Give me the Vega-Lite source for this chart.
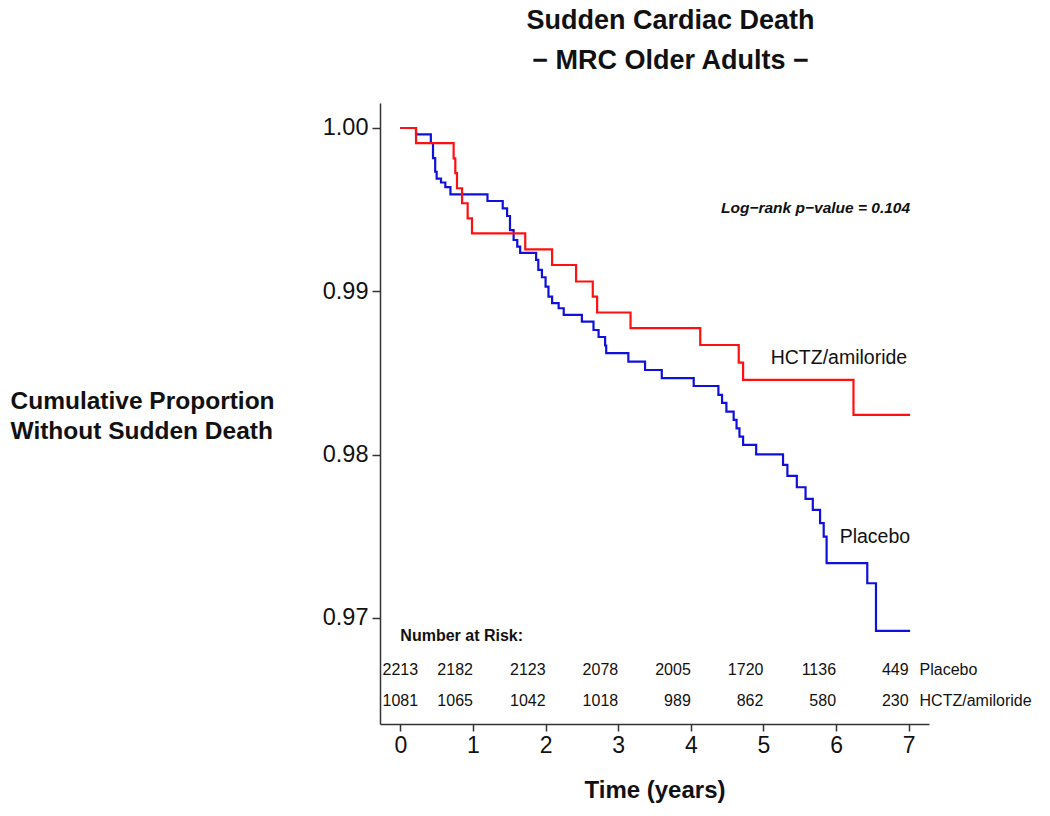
{
  "$schema": "https://vega.github.io/schema/vega-lite/v6.json",
  "width": 549,
  "height": 621,
  "autosize": {"type": "none"},
  "padding": {"left": 380, "top": 103, "right": 121, "bottom": 92},
  "background": "white",
  "config": {
    "view": {"stroke": null},
    "font": "Liberation Sans",
    "axis": {"grid": false}
  },
  "title": {
    "text": ["Sudden Cardiac Death", "− MRC Older Adults −"],
    "fontSize": 27,
    "fontWeight": "bold",
    "lineHeight": 40,
    "anchor": "middle",
    "dx": 16,
    "offset": 28,
    "color": "#111111",
    "font": "Liberation Sans"
  },
  "datasets": {
    "curves": [
      {"group": "Placebo", "t": 0, "S": 1.0},
      {"group": "Placebo", "t": 0.216, "S": 0.99961},
      {"group": "Placebo", "t": 0.42, "S": 0.99908},
      {"group": "Placebo", "t": 0.45, "S": 0.99816},
      {"group": "Placebo", "t": 0.48, "S": 0.99732},
      {"group": "Placebo", "t": 0.5, "S": 0.9969},
      {"group": "Placebo", "t": 0.56, "S": 0.99666},
      {"group": "Placebo", "t": 0.62, "S": 0.99638},
      {"group": "Placebo", "t": 0.69, "S": 0.99594},
      {"group": "Placebo", "t": 1.2, "S": 0.99553},
      {"group": "Placebo", "t": 1.41, "S": 0.99508},
      {"group": "Placebo", "t": 1.47, "S": 0.99461},
      {"group": "Placebo", "t": 1.51, "S": 0.99375},
      {"group": "Placebo", "t": 1.56, "S": 0.99314},
      {"group": "Placebo", "t": 1.61, "S": 0.99274},
      {"group": "Placebo", "t": 1.65, "S": 0.99235},
      {"group": "Placebo", "t": 1.87, "S": 0.99192},
      {"group": "Placebo", "t": 1.9, "S": 0.99131},
      {"group": "Placebo", "t": 1.95, "S": 0.99086},
      {"group": "Placebo", "t": 2.0, "S": 0.99028},
      {"group": "Placebo", "t": 2.04, "S": 0.98967},
      {"group": "Placebo", "t": 2.09, "S": 0.98927},
      {"group": "Placebo", "t": 2.18, "S": 0.98896},
      {"group": "Placebo", "t": 2.25, "S": 0.98855},
      {"group": "Placebo", "t": 2.5, "S": 0.98814},
      {"group": "Placebo", "t": 2.66, "S": 0.98763},
      {"group": "Placebo", "t": 2.73, "S": 0.9872},
      {"group": "Placebo", "t": 2.82, "S": 0.98668},
      {"group": "Placebo", "t": 2.835, "S": 0.98621},
      {"group": "Placebo", "t": 3.14, "S": 0.98569},
      {"group": "Placebo", "t": 3.37, "S": 0.98518},
      {"group": "Placebo", "t": 3.6, "S": 0.98468},
      {"group": "Placebo", "t": 4.04, "S": 0.9842},
      {"group": "Placebo", "t": 4.38, "S": 0.98365},
      {"group": "Placebo", "t": 4.43, "S": 0.98316},
      {"group": "Placebo", "t": 4.49, "S": 0.98263},
      {"group": "Placebo", "t": 4.59, "S": 0.98212},
      {"group": "Placebo", "t": 4.63, "S": 0.98161},
      {"group": "Placebo", "t": 4.67, "S": 0.9811},
      {"group": "Placebo", "t": 4.72, "S": 0.98059},
      {"group": "Placebo", "t": 4.9, "S": 0.98001},
      {"group": "Placebo", "t": 5.27, "S": 0.97937},
      {"group": "Placebo", "t": 5.33, "S": 0.97869},
      {"group": "Placebo", "t": 5.46, "S": 0.978},
      {"group": "Placebo", "t": 5.58, "S": 0.97729},
      {"group": "Placebo", "t": 5.68, "S": 0.97661},
      {"group": "Placebo", "t": 5.78, "S": 0.9758},
      {"group": "Placebo", "t": 5.83, "S": 0.97498},
      {"group": "Placebo", "t": 5.87, "S": 0.97335},
      {"group": "Placebo", "t": 6.43, "S": 0.97212},
      {"group": "Placebo", "t": 6.55, "S": 0.9692},
      {"group": "Placebo", "t": 7.02, "S": 0.9692},
      {"group": "HCTZ/amiloride", "t": 0, "S": 1.0},
      {"group": "HCTZ/amiloride", "t": 0.216, "S": 0.99907},
      {"group": "HCTZ/amiloride", "t": 0.734, "S": 0.99814},
      {"group": "HCTZ/amiloride", "t": 0.757, "S": 0.99723},
      {"group": "HCTZ/amiloride", "t": 0.78, "S": 0.99631},
      {"group": "HCTZ/amiloride", "t": 0.85, "S": 0.99539},
      {"group": "HCTZ/amiloride", "t": 0.927, "S": 0.99447},
      {"group": "HCTZ/amiloride", "t": 0.987, "S": 0.99355},
      {"group": "HCTZ/amiloride", "t": 1.72, "S": 0.99257},
      {"group": "HCTZ/amiloride", "t": 2.09, "S": 0.99161},
      {"group": "HCTZ/amiloride", "t": 2.42, "S": 0.9906},
      {"group": "HCTZ/amiloride", "t": 2.65, "S": 0.98967},
      {"group": "HCTZ/amiloride", "t": 2.71, "S": 0.9887},
      {"group": "HCTZ/amiloride", "t": 3.17, "S": 0.98774},
      {"group": "HCTZ/amiloride", "t": 4.13, "S": 0.98671},
      {"group": "HCTZ/amiloride", "t": 4.66, "S": 0.98563},
      {"group": "HCTZ/amiloride", "t": 4.72, "S": 0.98457},
      {"group": "HCTZ/amiloride", "t": 6.24, "S": 0.98243},
      {"group": "HCTZ/amiloride", "t": 7.02, "S": 0.98243}
    ],
    "risk": [
      {"group": "Placebo", "t": 0, "n": 2213},
      {"group": "Placebo", "t": 1, "n": 2182},
      {"group": "Placebo", "t": 2, "n": 2123},
      {"group": "Placebo", "t": 3, "n": 2078},
      {"group": "Placebo", "t": 4, "n": 2005},
      {"group": "Placebo", "t": 5, "n": 1720},
      {"group": "Placebo", "t": 6, "n": 1136},
      {"group": "Placebo", "t": 7, "n": 449},
      {"group": "HCTZ/amiloride", "t": 0, "n": 1081},
      {"group": "HCTZ/amiloride", "t": 1, "n": 1065},
      {"group": "HCTZ/amiloride", "t": 2, "n": 1042},
      {"group": "HCTZ/amiloride", "t": 3, "n": 1018},
      {"group": "HCTZ/amiloride", "t": 4, "n": 989},
      {"group": "HCTZ/amiloride", "t": 5, "n": 862},
      {"group": "HCTZ/amiloride", "t": 6, "n": 580},
      {"group": "HCTZ/amiloride", "t": 7, "n": 230}
    ]
  },
  "layer": [
    {
      "data": {"name": "curves"},
      "mark": {"type": "line", "interpolate": "step-after", "strokeWidth": 2.2, "clip": false},
      "encoding": {
        "x": {
          "field": "t", "type": "quantitative",
          "scale": {"domain": [-0.28, 7.28], "nice": false, "zero": false},
          "axis": {
            "values": [0, 1, 2, 3, 4, 5, 6, 7],
            "format": "d",
            "labelFontSize": 23,
            "labelFlush": false,
            "labelPadding": 3,
            "labelColor": "#111111",
            "tickSize": 7,
            "tickWidth": 1.5,
            "tickColor": "#333333",
            "domainColor": "#333333",
            "domainWidth": 1.5,
            "title": "Time (years)",
            "titleFontSize": 24,
            "titleFontWeight": "bold",
            "titleColor": "#111111",
            "titleBaseline": "middle",
            "titleY": 66
          }
        },
        "y": {
          "field": "S", "type": "quantitative",
          "scale": {"domain": [0.9635, 1.00153], "nice": false, "zero": false},
          "axis": {
            "values": [0.97, 0.98, 0.99, 1.0],
            "format": ".2f",
            "labelFontSize": 23.5,
            "labelPadding": 4,
            "labelColor": "#111111",
            "tickSize": 8,
            "tickWidth": 1.5,
            "tickColor": "#333333",
            "domainColor": "#333333",
            "domainWidth": 1.5,
            "title": ["Cumulative Proportion", "Without Sudden Death"],
            "titleAngle": 0,
            "titleAlign": "left",
            "titleBaseline": "middle",
            "titleX": -370,
            "titleY": 298,
            "titleFontSize": 24.5,
            "titleLineHeight": 30,
            "titleFontWeight": "bold",
            "titleColor": "#111111"
          }
        },
        "color": {
          "field": "group", "type": "nominal",
          "scale": {"domain": ["Placebo", "HCTZ/amiloride"], "range": ["#1010dd", "#ff1010"]},
          "legend": null
        }
      }
    },
    {
      "data": {"values": [{"label": "Log−rank p−value = 0.104"}]},
      "mark": {"type": "text", "align": "right", "baseline": "middle", "fontSize": 15.5, "fontStyle": "italic", "fontWeight": "bold", "color": "#111111"},
      "encoding": {
        "x": {"datum": 7.02, "type": "quantitative"},
        "y": {"datum": 0.9951, "type": "quantitative"},
        "text": {"field": "label"}
      }
    },
    {
      "data": {"values": [{"label": "HCTZ/amiloride"}]},
      "mark": {"type": "text", "align": "right", "baseline": "middle", "fontSize": 19.5, "color": "#111111"},
      "encoding": {
        "x": {"datum": 6.98, "type": "quantitative"},
        "y": {"datum": 0.98592, "type": "quantitative"},
        "text": {"field": "label"}
      }
    },
    {
      "data": {"values": [{"label": "Placebo"}]},
      "mark": {"type": "text", "align": "right", "baseline": "middle", "fontSize": 19.5, "color": "#111111"},
      "encoding": {
        "x": {"datum": 7.02, "type": "quantitative"},
        "y": {"datum": 0.97496, "type": "quantitative"},
        "text": {"field": "label"}
      }
    },
    {
      "data": {"values": [{"label": "Number at Risk:"}]},
      "mark": {"type": "text", "align": "left", "baseline": "middle", "fontSize": 16, "fontWeight": "bold", "color": "#111111"},
      "encoding": {
        "x": {"datum": 0, "type": "quantitative"},
        "y": {"datum": 0.96886, "type": "quantitative"},
        "text": {"field": "label"}
      }
    },
    {
      "data": {"name": "risk"},
      "transform": [{"filter": "datum.group === 'Placebo' && datum.t === 0"}],
      "mark": {"type": "text", "align": "center", "baseline": "middle", "fontSize": 16, "color": "#111111"},
      "encoding": {
        "x": {"field": "t", "type": "quantitative"},
        "y": {"datum": 0.96682, "type": "quantitative"},
        "text": {"field": "n"}
      }
    },
    {
      "data": {"name": "risk"},
      "transform": [{"filter": "datum.group === 'Placebo' && datum.t > 0"}],
      "mark": {"type": "text", "align": "right", "baseline": "middle", "fontSize": 16, "color": "#111111"},
      "encoding": {
        "x": {"field": "t", "type": "quantitative"},
        "y": {"datum": 0.96682, "type": "quantitative"},
        "text": {"field": "n"}
      }
    },
    {
      "data": {"name": "risk"},
      "transform": [{"filter": "datum.group === 'HCTZ/amiloride' && datum.t === 0"}],
      "mark": {"type": "text", "align": "center", "baseline": "middle", "fontSize": 16, "color": "#111111"},
      "encoding": {
        "x": {"field": "t", "type": "quantitative"},
        "y": {"datum": 0.96488, "type": "quantitative"},
        "text": {"field": "n"}
      }
    },
    {
      "data": {"name": "risk"},
      "transform": [{"filter": "datum.group === 'HCTZ/amiloride' && datum.t > 0"}],
      "mark": {"type": "text", "align": "right", "baseline": "middle", "fontSize": 16, "color": "#111111"},
      "encoding": {
        "x": {"field": "t", "type": "quantitative"},
        "y": {"datum": 0.96488, "type": "quantitative"},
        "text": {"field": "n"}
      }
    },
    {
      "data": {"values": [{"label": "Placebo"}]},
      "mark": {"type": "text", "align": "left", "baseline": "middle", "fontSize": 16, "color": "#111111"},
      "encoding": {
        "x": {"datum": 7.15, "type": "quantitative"},
        "y": {"datum": 0.96682, "type": "quantitative"},
        "text": {"field": "label"}
      }
    },
    {
      "data": {"values": [{"label": "HCTZ/amiloride"}]},
      "mark": {"type": "text", "align": "left", "baseline": "middle", "fontSize": 16, "color": "#111111"},
      "encoding": {
        "x": {"datum": 7.15, "type": "quantitative"},
        "y": {"datum": 0.96488, "type": "quantitative"},
        "text": {"field": "label"}
      }
    }
  ]
}
